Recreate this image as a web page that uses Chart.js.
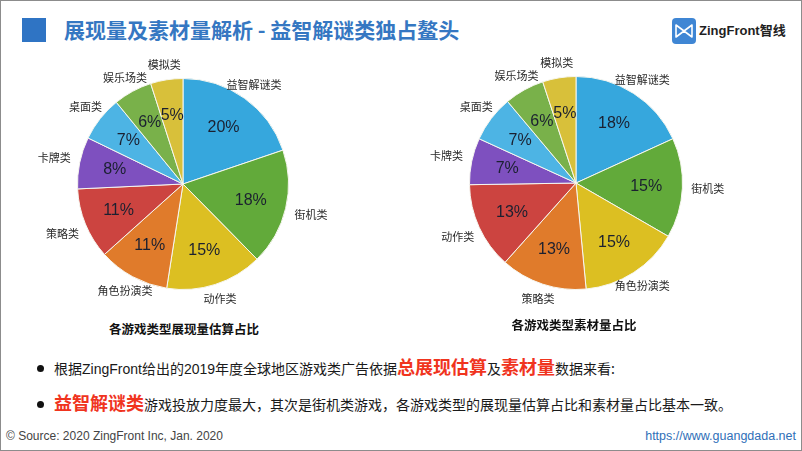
<!DOCTYPE html>
<html>
<head>
<meta charset="utf-8">
<script src="https://cdn.jsdelivr.net/npm/chart.js@4.4.1/dist/chart.umd.min.js"></script>
<style>
  body { margin: 0; background: #fff; font-family: "Noto Sans CJK SC", "Liberation Sans", sans-serif; }
  #page { position: relative; width: 802px; height: 451px; box-sizing: border-box; border: 1px solid #8c8c8c; overflow: hidden; }
  .abs { position: absolute; white-space: nowrap; }
  #mark { left: 21px; top: 17px; width: 24px; height: 24px; background: #2f74c4; }
  #title { left: 63px; top: 13px; font-size: 21px; font-weight: 700; color: #3577c2; line-height: 30px; }
  #logo { left: 671px; top: 17px; width: 24px; height: 26px; }
  #logoText { left: 698px; top: 21px; font-size: 13px; font-weight: 700; color: #1f1f1f; font-family: "Liberation Sans", "Noto Sans CJK SC", sans-serif; line-height: 18px; }
  .box { position: absolute; width: 360px; height: 270px; }
  .cap { font-size: 12.5px; font-weight: 700; color: #111; transform: translateX(-50%); line-height: 16px; }
  .line { left: 36px; font-size: 14px; color: #1a1a1a; line-height: 24px; }
  .line .dot { display: inline-block; width: 7px; height: 7px; border-radius: 50%; background: #111; margin-right: 10px; vertical-align: middle; position: relative; top: -2px; }
  .lat { font-family: "Liberation Sans", sans-serif; }
  .red { color: #f0341e; font-weight: 700; font-size: 18px; }
  #src { left: 5px; top: 428px; font-size: 12px; color: #444; font-family: "Liberation Sans", sans-serif; }
  #url { right: 5px; top: 428px; font-size: 12.5px; color: #2f6fb8; font-family: "Liberation Sans", sans-serif; }
</style>
</head>
<body>
<div id="page">
  <div id="mark" class="abs"></div>
  <div id="title" class="abs">展现量及素材量解析 - 益智解谜类独占鳌头</div>
  <svg id="logo" class="abs" viewBox="0 0 24 26">
    <rect x="0" y="0" width="24" height="26" rx="4" fill="#3f86d4"/>
    <path d="M4 7 L12 13 L20 7 L20 19 L12 13 L4 19 Z" fill="none" stroke="#fff" stroke-width="1.6" stroke-linejoin="round"/>
  </svg>
  <div id="logoText" class="abs">ZingFront智线</div>

  <div class="box" style="left:0px; top:45px;"><canvas id="leftPie"></canvas></div>
  <div class="box" style="left:400px; top:45px;"><canvas id="rightPie"></canvas></div>

  <div class="abs cap" style="left:183px; top:320px;">各游戏类型展现量估算占比</div>
  <div class="abs cap" style="left:573px; top:316px;">各游戏类型素材量占比</div>

  <div class="abs line" style="top:353px;"><span class="dot"></span>根据<span class="lat">ZingFront</span>给出的<span class="lat">2019</span>年度全球地区游戏类广告依据<span class="red">总展现估算</span>及<span class="red">素材量</span>数据来看:</div>
  <div class="abs line" style="top:389px;"><span class="dot"></span><span class="red">益智解谜类</span>游戏投放力度最大，其次是街机类游戏，各游戏类型的展现量估算占比和素材量占比基本一致。</div>

  <div id="src" class="abs">© Source: 2020 ZingFront Inc, Jan. 2020</div>
  <div id="url" class="abs">https://www.guangdada.net</div>
</div>

<script>
// 展现量估算占比
const leftLabels = ['益智解谜类', '街机类', '动作类', '角色扮演类', '策略类', '卡牌类', '桌面类', '娱乐场类', '模拟类'];
const leftValues = [20, 18, 15, 11, 11, 8, 7, 6, 5];

// 素材量占比
const rightLabels = ['益智解谜类', '街机类', '角色扮演类', '策略类', '动作类', '卡牌类', '桌面类', '娱乐场类', '模拟类'];
const rightValues = [18, 15, 15, 13, 13, 7, 7, 6, 5];

const sliceColors = ['#36a7dd', '#62aa3a', '#dcbf22', '#e07b2b', '#cc4440', '#7e50bf', '#4db4e4', '#79b14a', '#d8c03a'];

// draws % inside and category name outside each slice
const pieLabels = {
    id: 'pieLabels',
    afterDatasetsDraw(chart) {
        const ctx = chart.ctx;
        const meta = chart.getDatasetMeta(0);
        const data = chart.data.datasets[0].data;
        const names = chart.data.labels;
        meta.data.forEach((arc, i) => {
            const p = arc.getProps(['x', 'y', 'startAngle', 'endAngle', 'outerRadius'], true);
            const mid = (p.startAngle + p.endAngle) / 2;
            const cos = Math.cos(mid), sin = Math.sin(mid);

            ctx.save();
            ctx.textAlign = 'center';
            ctx.textBaseline = 'middle';
            ctx.fillStyle = '#1b2030';
            ctx.font = '16px "Liberation Sans", Arial, sans-serif';
            const ri = p.outerRadius * 0.66;
            ctx.fillText(data[i] + '%', p.x + cos * ri, p.y + sin * ri);

            ctx.font = '11px "Noto Sans CJK SC", sans-serif';
            ctx.fillStyle = '#2a2a2a';
            const w = ctx.measureText(names[i]).width / 2;
            const h = 6;
            const t = Math.min(Math.abs(cos) > 0.01 ? w / Math.abs(cos) : 999, Math.abs(sin) > 0.01 ? h / Math.abs(sin) : 999);
            const ro = p.outerRadius + 9 + t;
            ctx.fillText(names[i], p.x + cos * ro, p.y + sin * ro);
            ctx.restore();
        });
    }
};

const makePie = (id, labels, values, padding) => {
    new Chart(document.getElementById(id), {
        type: 'pie',
        data: {
            labels: labels,
            datasets: [{
                data: values,
                backgroundColor: sliceColors,
                borderColor: '#f6f6ef',
                borderWidth: 1
            }]
        },
        options: {
            responsive: true,
            maintainAspectRatio: false,
            animation: false,
            layout: { padding: padding },
            plugins: { legend: { display: false }, tooltip: { enabled: false } }
        },
        plugins: [pieLabels]
    });
};

makePie('leftPie', leftLabels, leftValues, { left: 76, top: 32, right: 72, bottom: 26 });
makePie('rightPie', rightLabels, rightValues, { left: 68, top: 30, right: 78, bottom: 26 });
</script>
</body>
</html>
